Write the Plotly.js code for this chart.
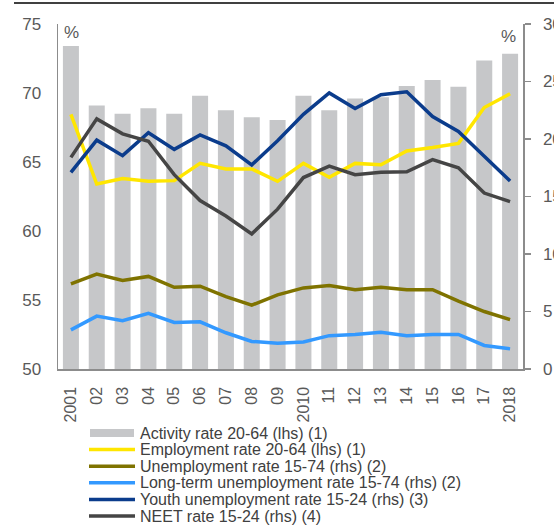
<!DOCTYPE html>
<html>
<head>
<meta charset="utf-8">
<script src="https://cdn.plot.ly/plotly-3.0.1.min.js"></script>
<style>
html,body{margin:0;padding:0;background:#fff;}
#chart{width:554px;height:525px;}
</style>
</head>
<body>
<div id="chart"></div>
<script>
// ---- data ----
var years = ['2001','2002','2003','2004','2005','2006','2007','2008','2009','2010','2011','2012','2013','2014','2015','2016','2017','2018'];
var tickLabels = ['2001','02','03','04','05','06','07','08','09','2010','11','12','13','14','15','16','17','2018'];

var activityRate = [73.4, 69.1, 68.5, 68.9, 68.5, 69.8, 68.75, 68.25, 68.05, 69.8, 68.75, 69.6, 69.7, 70.5, 70.95, 70.45, 72.35, 72.85];
var employmentRate = [68.45, 63.4, 63.8, 63.6, 63.65, 64.9, 64.5, 64.5, 63.6, 64.9, 63.9, 64.9, 64.8, 65.8, 66.05, 66.35, 68.95, 69.95];
var unemploymentRate = [7.4, 8.25, 7.7, 8.05, 7.1, 7.2, 6.3, 5.55, 6.45, 7.05, 7.25, 6.9, 7.1, 6.9, 6.9, 5.9, 5.0, 4.3];
var longTermUnemp = [3.4, 4.6, 4.2, 4.85, 4.05, 4.1, 3.15, 2.4, 2.25, 2.35, 2.9, 3.0, 3.2, 2.9, 3.0, 3.0, 2.05, 1.75];
var youthUnemp = [17.1, 19.9, 18.55, 20.55, 19.1, 20.35, 19.4, 17.75, 19.85, 22.15, 24.0, 22.65, 23.85, 24.1, 21.95, 20.65, 18.5, 16.35];
var neetRate = [18.4, 21.75, 20.45, 19.8, 16.9, 14.65, 13.3, 11.75, 13.9, 16.65, 17.65, 16.9, 17.1, 17.15, 18.2, 17.5, 15.3, 14.55];

var seriesNames = [
  'Activity rate 20-64 (lhs) (1)',
  'Employment rate 20-64 (lhs) (1)',
  'Unemployment rate 15-74 (rhs) (2)',
  'Long-term unemployment rate 15-74 (rhs) (2)',
  'Youth unemployment rate 15-24 (rhs) (3)',
  'NEET rate 15-24 (rhs) (4)'
];
var seriesColors = ['#c6c7c9', '#ffe600', '#7f7300', '#3399ff', '#0b3c8c', '#454545'];

// ---- traces ----
var lw = 3.5;
var traces = [
  {type:'bar', x:years, y:activityRate, name:seriesNames[0], marker:{color:seriesColors[0]}, yaxis:'y', hoverinfo:'x+y'},
  {type:'scatter', mode:'lines', x:years, y:employmentRate, name:seriesNames[1], line:{color:seriesColors[1], width:lw}, yaxis:'y'},
  {type:'scatter', mode:'lines', x:years, y:unemploymentRate, name:seriesNames[2], line:{color:seriesColors[2], width:lw}, yaxis:'y2'},
  {type:'scatter', mode:'lines', x:years, y:longTermUnemp, name:seriesNames[3], line:{color:seriesColors[3], width:lw}, yaxis:'y2'},
  {type:'scatter', mode:'lines', x:years, y:youthUnemp, name:seriesNames[4], line:{color:seriesColors[4], width:lw}, yaxis:'y2'},
  {type:'scatter', mode:'lines', x:years, y:neetRate, name:seriesNames[5], line:{color:seriesColors[5], width:lw}, yaxis:'y2'}
];

// ---- layout ----
var M = {l:58, r:31, t:24, b:156};
var W = 554, H = 525;
var plotW = W - M.l - M.r, plotH = H - M.t - M.b;
function px2x(p){ return (p - M.l) / plotW; }
function py2y(p){ return (H - M.b - p) / plotH; }

var FAM = 'Liberation Sans, Arial, sans-serif';
var tickFont = {family:FAM, size:16, color:'#595959'};
var yTickFont = {family:FAM, size:17, color:'#595959'};
var axisGray = '#8c8c8c';

var shapes = [
  {type:'line', xref:'paper', yref:'paper', x0:px2x(14), x1:px2x(560), y0:py2y(3), y1:py2y(3), line:{color:'#000', width:1.5}}
];
var annotations = [
  {xref:'paper', yref:'paper', x:px2x(71), y:py2y(33), text:'%', showarrow:false, font:yTickFont, xanchor:'center', yanchor:'middle'},
  {xref:'paper', yref:'paper', x:px2x(508), y:py2y(36), text:'%', showarrow:false, font:yTickFont, xanchor:'center', yanchor:'middle'}
];

// legend (manual, built from series names/colors)
var legRows = [433, 449.6, 466.2, 482.8, 499.4, 516];
for (var i = 0; i < seriesNames.length; i++) {
  var yc = legRows[i];
  if (i === 0) {
    shapes.push({type:'rect', xref:'paper', yref:'paper', x0:px2x(90), x1:px2x(134), y0:py2y(yc-4), y1:py2y(yc+4), fillcolor:seriesColors[0], line:{width:0}});
  } else {
    shapes.push({type:'line', xref:'paper', yref:'paper', x0:px2x(89), x1:px2x(135), y0:py2y(yc), y1:py2y(yc), line:{color:seriesColors[i], width:3.5}});
  }
  annotations.push({xref:'paper', yref:'paper', x:px2x(138), y:py2y(yc), text:seriesNames[i], showarrow:false, xanchor:'left', yanchor:'middle',
    font:{family:FAM, size:16, color:'#404040'}});
}

var layout = {
  width:W, height:H,
  margin:{l:M.l, r:M.r, t:M.t, b:M.b, pad:0, autoexpand:false},
  paper_bgcolor:'#fff', plot_bgcolor:'#fff',
  showlegend:false,
  bargap:0.38,
  font:{family:FAM, color:'#595959'},
  xaxis:{
    type:'category', tickvals:years, ticktext:tickLabels, tickangle:-90,
    showgrid:false, zeroline:false, showline:true, linecolor:axisGray, linewidth:1.5,
    ticks:'', tickfont:tickFont, ticklabelstandoff:10
  },
  yaxis:{
    range:[50,75], dtick:5, showgrid:false, zeroline:false, showline:true, linecolor:axisGray, linewidth:1.5,
    ticks:'', tickfont:yTickFont, ticklabelstandoff:12
  },
  yaxis2:{
    overlaying:'y', side:'right', range:[0,30], dtick:5, showgrid:false, zeroline:false,
    showline:true, linecolor:axisGray, linewidth:1.5,
    ticks:'outside', ticklen:6, tickcolor:axisGray, tickwidth:1.5, tickfont:yTickFont, ticklabelstandoff:9
  },
  shapes:shapes,
  annotations:annotations
};

Plotly.newPlot('chart', traces, layout, {displayModeBar:false, staticPlot:true});
</script>
</body>
</html>
